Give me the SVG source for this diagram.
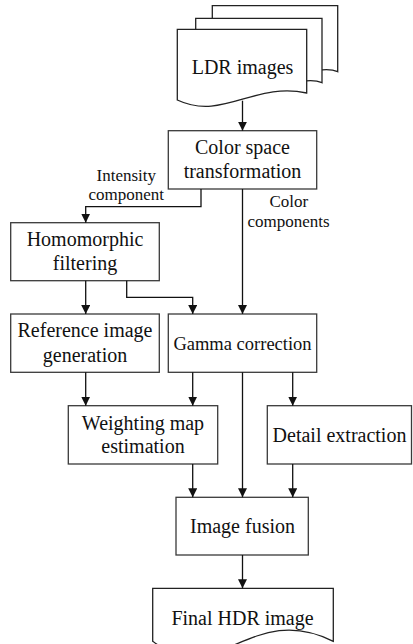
<svg xmlns="http://www.w3.org/2000/svg" width="413" height="644" viewBox="0 0 413 644">
<defs>
<style>
.box{fill:#fff;stroke:#3a3a3a;stroke-width:1.3}
.doc{fill:#fff;stroke:#222;stroke-width:1.3}
.t{font-family:"Liberation Serif","Times New Roman",serif;font-size:20px;fill:#111;text-anchor:middle}
.lbl{font-family:"Liberation Serif","Times New Roman",serif;font-size:17px;fill:#111;text-anchor:middle}
.c{fill:none;stroke:#111;stroke-width:1.3;marker-end:url(#ah)}
</style>
<marker id="ah" markerUnits="userSpaceOnUse" markerWidth="9" markerHeight="9" refX="9" refY="4.5" orient="auto">
<path d="M0,0 L9,4.5 L0,9 Z" fill="#111"/>
</marker>
</defs>
<g id="ldr">
<path class="doc" d="M212.3,76.4 V5.7 H337.7 V71.7 C312.6,60.3 256.2,100.3 212.3,76.4 Z"/>
<path class="doc" d="M195.7,89 V18.3 H322 V82.7 C296.3,71.3 239.9,111.3 195.7,89 Z"/>
<path class="doc" d="M177.3,100 V29.3 H306.7 V93 C254.9,81.3 222.6,121.3 177.3,100 Z"/>
<text class="t" x="242.5" y="74">LDR images</text>
</g>
<g id="colorspace">
<rect class="box" x="168.3" y="130.7" width="148.4" height="58.3"/>
<text class="t" x="242.5" y="154.3">Color space</text>
<text class="t" x="242.5" y="178.3">transformation</text>
</g>
<g id="homomorphic">
<rect class="box" x="10.7" y="222.7" width="148.6" height="58"/>
<text class="t" x="85" y="246">Homomorphic</text>
<text class="t" x="85" y="270">filtering</text>
</g>
<g id="reference">
<rect class="box" x="10.7" y="314" width="148.6" height="58.3"/>
<text class="t" x="85" y="337.3">Reference image</text>
<text class="t" x="85" y="361.7">generation</text>
</g>
<g id="gamma">
<rect class="box" x="168.3" y="314" width="148.4" height="58.3"/>
<text class="t" x="242.5" y="350" style="font-size:18.5px">Gamma correction</text>
</g>
<g id="weighting">
<rect class="box" x="68.3" y="405.7" width="149.4" height="58.3"/>
<text class="t" x="143" y="430">Weighting map</text>
<text class="t" x="143" y="452.5">estimation</text>
</g>
<g id="detail">
<rect class="box" x="267.3" y="405.7" width="144.2" height="58.3"/>
<text class="t" x="339.5" y="441.7">Detail extraction</text>
</g>
<g id="fusion">
<rect class="box" x="176" y="497.3" width="132.3" height="57.7"/>
<text class="t" x="242.5" y="533.3">Image fusion</text>
</g>
<g id="final">
<path class="doc" d="M152.7,641.3 V588.3 H333.3 V641.3 C250,600 218,690 152.7,641.3 Z"/>
<text class="t" x="242.5" y="625">Final HDR image</text>
</g>
<g id="connectors">
<path class="c" d="M242.5,100.7 V130.7"/>
<path class="c" d="M201,189 V206.7 H85.7 V222.7"/>
<path class="c" d="M242.5,189 V314"/>
<path class="c" d="M85.7,280.7 V314"/>
<path class="c" d="M126.7,280.7 V297.3 H192.7 V314"/>
<path class="c" d="M85.7,372.3 V405.7"/>
<path class="c" d="M192.7,372.3 V405.7"/>
<path class="c" d="M242.5,372.3 V497.3"/>
<path class="c" d="M292.7,372.3 V405.7"/>
<path class="c" d="M192.7,464 V497.3"/>
<path class="c" d="M292.7,464 V497.3"/>
<path class="c" d="M242.5,555 V588.3"/>
<text class="lbl" x="126.3" y="180.7">Intensity</text>
<text class="lbl" x="126.3" y="200.3">component</text>
<text class="lbl" x="288.8" y="206.7">Color</text>
<text class="lbl" x="288.5" y="227.3">components</text>
</g>
</svg>
